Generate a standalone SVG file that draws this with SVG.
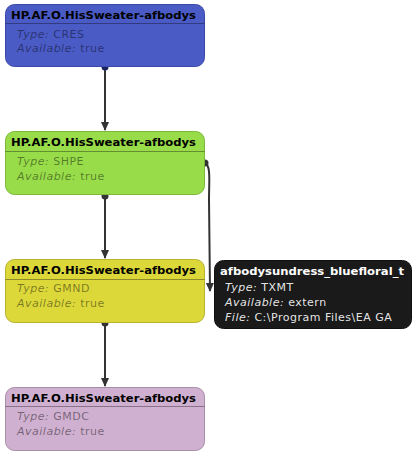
<svg xmlns="http://www.w3.org/2000/svg" width="416" height="456" viewBox="0 0 416 456">
<style>
.title{font-family:"DejaVu Sans",Verdana,sans-serif;font-size:11px;font-weight:bold;fill:#000}
.body{font-family:"DejaVu Sans",Verdana,sans-serif;font-size:11px;letter-spacing:0.5px;fill:#000;fill-opacity:0.45}
.lbl{font-style:italic}
.dk .title{fill:#fff}
.dk .body{fill:#fff;fill-opacity:0.9}
.sep{stroke:#000;stroke-opacity:0.35;stroke-width:1}
.edge{fill:none;stroke:#333;stroke-width:2}
</style>
<defs>
<marker id="arr" markerWidth="10" markerHeight="10" refX="8" refY="5" orient="auto" markerUnits="userSpaceOnUse">
<path d="M0,1 L9,5 L0,9 Z" fill="#333"/>
</marker>
</defs>
<g id="connectors">
<path class="edge" d="M105,67 L105,130" marker-end="url(#arr)"/>
<circle cx="105" cy="67" r="3.5" fill="#1a2460"/>
<path class="edge" d="M105,196 L105,258" marker-end="url(#arr)"/>
<circle cx="105" cy="196" r="3.5" fill="#333"/>
<path class="edge" d="M105,323 L105,386" marker-end="url(#arr)"/>
<circle cx="105" cy="323" r="3.5" fill="#333"/>
<path class="edge" d="M205,163 C211,166 209,180 209,200 L210,291" marker-end="url(#arr)"/>
<circle cx="205" cy="163" r="3.5" fill="#333"/>
</g>
<g id="n1">
<rect x="5.5" y="4.5" width="199" height="62" rx="9" fill="#4a5bc6" stroke="#3a4aa8"/>
<line class="sep" x1="5.5" y1="23.5" x2="204.5" y2="23.5"/>
<text class="title" x="11" y="19" textLength="185" lengthAdjust="spacingAndGlyphs">HP.AF.O.HisSweater-afbodys</text>
<text class="body" x="17" y="38"><tspan class="lbl">Type:</tspan> CRES</text>
<text class="body" x="17" y="52"><tspan class="lbl">Available:</tspan> true</text>
</g>
<g id="n2">
<rect x="5.5" y="131.5" width="199" height="63" rx="9" fill="#98dc4a" stroke="#7bb83a"/>
<line class="sep" x1="5.5" y1="151.5" x2="204.5" y2="151.5"/>
<text class="title" x="11" y="146" textLength="185" lengthAdjust="spacingAndGlyphs">HP.AF.O.HisSweater-afbodys</text>
<text class="body" x="17" y="165"><tspan class="lbl">Type:</tspan> SHPE</text>
<text class="body" x="17" y="180"><tspan class="lbl">Available:</tspan> true</text>
</g>
<g id="n3">
<rect x="5.5" y="259.5" width="199" height="63" rx="9" fill="#dcd83a" stroke="#b8b430"/>
<line class="sep" x1="5.5" y1="279.5" x2="204.5" y2="279.5"/>
<text class="title" x="11" y="274" textLength="185" lengthAdjust="spacingAndGlyphs">HP.AF.O.HisSweater-afbodys</text>
<text class="body" x="17" y="292"><tspan class="lbl">Type:</tspan> GMND</text>
<text class="body" x="17" y="307"><tspan class="lbl">Available:</tspan> true</text>
</g>
<g id="n4">
<rect x="5.5" y="387.5" width="199" height="63" rx="9" fill="#d0b0d0" stroke="#a88ea8"/>
<line class="sep" x1="5.5" y1="406.5" x2="204.5" y2="406.5"/>
<text class="title" x="11" y="402" textLength="185" lengthAdjust="spacingAndGlyphs">HP.AF.O.HisSweater-afbodys</text>
<text class="body" x="17" y="420"><tspan class="lbl">Type:</tspan> GMDC</text>
<text class="body" x="17" y="435"><tspan class="lbl">Available:</tspan> true</text>
</g>
<g id="n5" class="dk">
<rect x="214.5" y="260.5" width="197" height="68" rx="9" fill="#1a1a1a" stroke="#111"/>
<text class="title" x="220" y="275" textLength="184" lengthAdjust="spacingAndGlyphs">afbodysundress_bluefloral_t</text>
<text class="body" x="225" y="291"><tspan class="lbl">Type:</tspan> TXMT</text>
<text class="body" x="225" y="306"><tspan class="lbl">Available:</tspan> extern</text>
<text class="body" x="225" y="321"><tspan class="lbl">File:</tspan> C:\Program Files\EA GA</text>
</g>
</svg>
